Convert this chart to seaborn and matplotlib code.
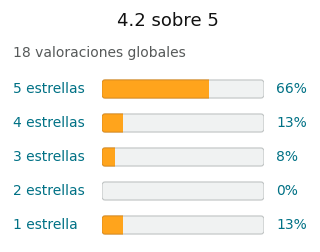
import matplotlib
matplotlib.use("Agg")
import matplotlib.pyplot as plt
from matplotlib.patches import FancyBboxPatch
import seaborn as sns
import pandas as pd

labels = ["5 estrellas", "4 estrellas", "3 estrellas", "2 estrellas", "1 estrella"]
percents = [66, 13, 8, 0, 13]
title = "4.2 sobre 5"
subtitle = "18 valoraciones globales"

df = pd.DataFrame({"label": labels, "pct": percents, "full": [100] * len(labels)})

sns.set_theme(style="white")
plt.rcParams["font.family"] = ["DejaVu Sans"]

fig = plt.figure(figsize=(3.2, 2.52), dpi=100)
ax = fig.add_axes([102 / 320, 10 / 252, 162 / 320, 170 / 252])

sns.barplot(data=df, x="full", y="label", order=labels, color="#F0F2F2",
            width=0.53, saturation=1, ax=ax)
sns.barplot(data=df, x="pct", y="label", order=labels, color="#FFA41C",
            width=0.53, saturation=1, ax=ax)

# background bars become rounded boxes, orange bars get clipped to them
n = len(labels)
patches = list(ax.patches)
back, fill = patches[:n], patches[n:]
for bg, fg in zip(back, fill):
    x, y, w, h = bg.get_x(), bg.get_y(), bg.get_width(), bg.get_height()
    bg.remove()
    box = FancyBboxPatch((x, y), w, h,
                         boxstyle="round,pad=0,rounding_size=1.9",
                         mutation_aspect=0.047, facecolor="#F0F2F2",
                         edgecolor="#BFC3C3", linewidth=0.8, zorder=2)
    ax.add_patch(box)
    fg.set_zorder(3)
    fg.set_facecolor("#FFA41C")
    fg.set_edgecolor("none")
    if fg.get_width() > 0:
        fg.set_clip_path(box)
        outline = FancyBboxPatch((x, y), w, h,
                                 boxstyle="round,pad=0,rounding_size=1.9",
                                 mutation_aspect=0.047, facecolor="none",
                                 edgecolor="#E3901C", linewidth=0.8, zorder=4)
        ax.add_patch(outline)
        clip = FancyBboxPatch((x - 2, y - 0.1), fg.get_width() + 2, h + 0.2,
                              boxstyle="square,pad=0", transform=ax.transData)
        outline.set_clip_path(clip)

ax.set_xlim(0, 100)
ax.set_ylim(n - 0.5, -0.5)
ax.axis("off")

teal = "#007185"
for i, (lab, pct) in enumerate(zip(labels, percents)):
    ax.text(-89 / 1.62, i, lab, ha="left", va="center", fontsize=10, color=teal)
    ax.text(100 + 12 / 1.62, i, f"{pct}%", ha="left", va="center",
            fontsize=10, color=teal)

fig.text(168 / 320, 1 - 21 / 252, title, ha="center", va="center", fontsize=13,
         color="#111111")
fig.text(13 / 320, 1 - 53 / 252, subtitle, ha="left", va="center",
         fontsize=10, color="#565959")

fig.savefig("out.png", dpi=100)
